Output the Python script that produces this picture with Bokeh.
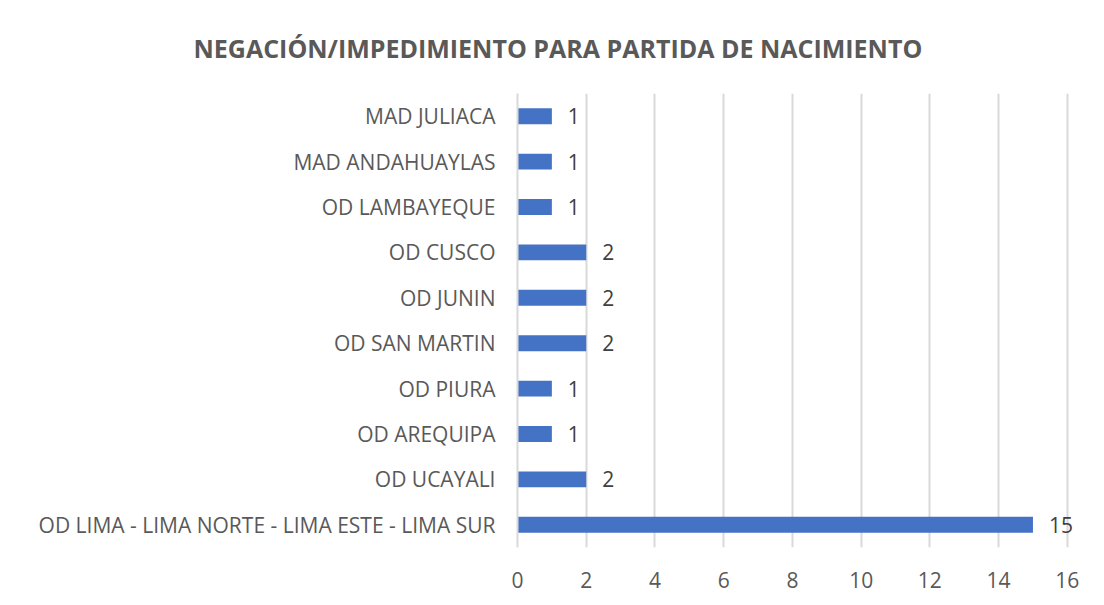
from bokeh.plotting import figure
from bokeh.models import FactorRange, Range1d, LabelSet, ColumnDataSource, FixedTicker
from bokeh.core.properties import value
from bokeh.embed import file_html
from bokeh.resources import INLINE

categories = ["MAD JULIACA", "MAD ANDAHUAYLAS", "OD LAMBAYEQUE", "OD CUSCO", "OD JUNIN",
              "OD SAN MARTIN", "OD PIURA", "OD AREQUIPA", "OD UCAYALI",
              "OD LIMA - LIMA NORTE - LIMA ESTE - LIMA SUR"]
counts = [1, 1, 1, 2, 2, 2, 1, 1, 2, 15]
x_ticks = [0, 2, 4, 6, 8, 10, 12, 14, 16]
title_text = "NEGACIÓN/IMPEDIMIENTO PARA PARTIDA DE NACIMIENTO"

FONT = "Open Sans"
TXT = "#595959"
GRID = "#D9D9D9"
BAR = "#4472C4"

W, H = 1096, 597
XMAX = 16.5
LEFT, TOP, FH = 517, 93, 454
FW = round(550 * XMAX / 16)

src = ColumnDataSource(dict(cat=categories, val=counts, lab=[str(v) for v in counts]))

p = figure(width=W, height=H, output_backend="svg", toolbar_location=None,
           y_range=FactorRange(factors=categories[::-1], range_padding=0),
           x_range=Range1d(0, XMAX))
p.min_border_left = LEFT
p.min_border_right = W - LEFT - FW
p.min_border_top = TOP
p.min_border_bottom = H - TOP - FH
p.outline_line_color = None
p.border_fill_color = "white"
p.background_fill_color = "white"
p.styles = {"box-shadow": "-2px -2px 0 #D9D9D9"}

p.hbar(y="cat", right="val", left=0, height=0.35, source=src, fill_color=BAR, line_color=None)
p.add_layout(LabelSet(x="val", y="cat", text="lab", source=src, x_offset=16, text_align="left",
                      text_baseline="middle", text_font=value(FONT), text_font_size=value("21px"),
                      text_color=value("#404040")))

# x axis
p.xaxis.ticker = FixedTicker(ticks=x_ticks)
p.xaxis.axis_line_color = None
p.xaxis.major_tick_line_color = None
p.xaxis.minor_tick_line_color = None
p.xaxis.major_label_standoff = 18
p.xaxis.major_label_text_font = FONT
p.xaxis.major_label_text_font_size = "21px"
p.xaxis.major_label_text_color = TXT

# y axis
p.yaxis.axis_line_color = GRID
p.yaxis.axis_line_width = 2
p.yaxis.major_tick_line_color = None
p.yaxis.minor_tick_line_color = None
p.yaxis.major_label_standoff = 16
p.yaxis.major_label_text_font = FONT
p.yaxis.major_label_text_font_size = "21px"
p.yaxis.major_label_text_color = TXT

p.ygrid.grid_line_color = None
p.xgrid.grid_line_color = GRID
p.xgrid.grid_line_width = 2

p.title.text = title_text
p.title.align = "left"
p.title.offset = 193 - 517
p.title.vertical_align = "middle"
p.title.text_font = FONT
p.title.text_font_size = "25px"
p.title.text_font_style = "bold"
p.title.text_color = TXT
p.title.standoff = 56

open("out.html", "w").write(file_html(p, INLINE))
